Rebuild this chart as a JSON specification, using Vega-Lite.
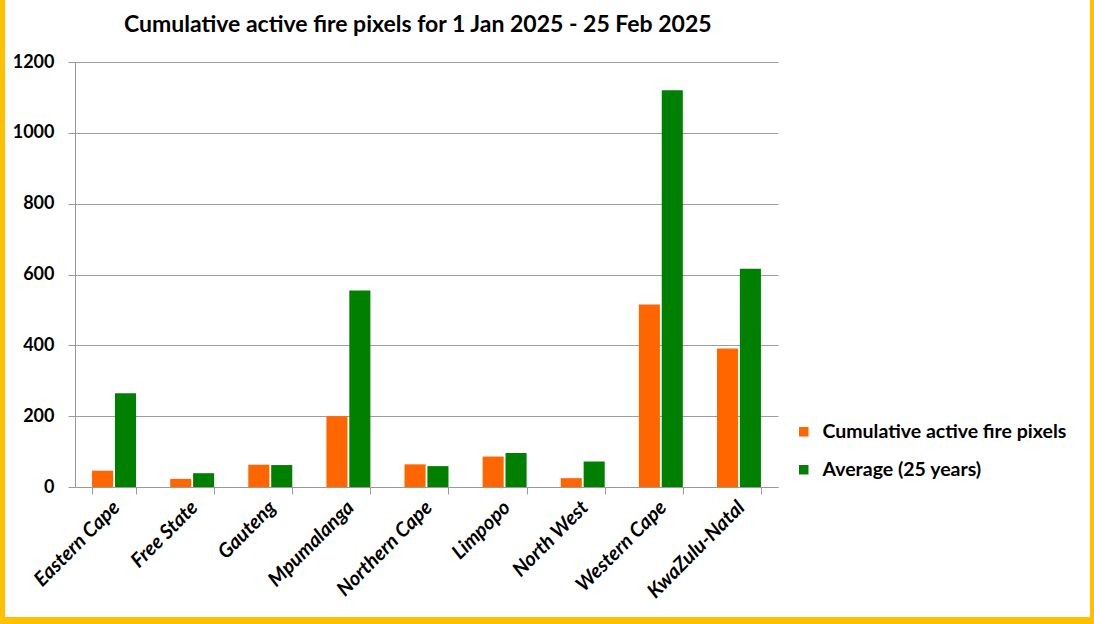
{
  "$schema": "https://vega.github.io/schema/vega-lite/v6.json",
  "width": 1085,
  "height": 617,
  "autosize": {"type": "none"},
  "padding": {"left": 5, "top": 0, "right": 4, "bottom": 7},
  "background": "#FFC000",
  "title": {
    "text": "Cumulative active fire pixels for 1 Jan 2025 - 25 Feb 2025",
    "anchor": "start",
    "frame": "group",
    "dx": 119,
    "dy": 55,
    "offset": 0,
    "baseline": "alphabetic",
    "font": "Lato",
    "fontSize": 23,
    "fontWeight": "bold",
    "color": "#000000"
  },
  "config": {
    "view": {"fill": "#FFFFFF", "stroke": null},
    "font": "Lato"
  },
  "data": {
    "values": [
      {"province": "Eastern Cape", "series": "Cumulative active fire pixels", "value": 46},
      {"province": "Eastern Cape", "series": "Average (25 years)", "value": 265},
      {"province": "Free State", "series": "Cumulative active fire pixels", "value": 23},
      {"province": "Free State", "series": "Average (25 years)", "value": 39},
      {"province": "Gauteng", "series": "Cumulative active fire pixels", "value": 63},
      {"province": "Gauteng", "series": "Average (25 years)", "value": 62},
      {"province": "Mpumalanga", "series": "Cumulative active fire pixels", "value": 200},
      {"province": "Mpumalanga", "series": "Average (25 years)", "value": 555},
      {"province": "Northern Cape", "series": "Cumulative active fire pixels", "value": 64},
      {"province": "Northern Cape", "series": "Average (25 years)", "value": 59},
      {"province": "Limpopo", "series": "Cumulative active fire pixels", "value": 86},
      {"province": "Limpopo", "series": "Average (25 years)", "value": 96},
      {"province": "North West", "series": "Cumulative active fire pixels", "value": 25},
      {"province": "North West", "series": "Average (25 years)", "value": 72},
      {"province": "Western Cape", "series": "Cumulative active fire pixels", "value": 515},
      {"province": "Western Cape", "series": "Average (25 years)", "value": 1120},
      {"province": "KwaZulu-Natal", "series": "Cumulative active fire pixels", "value": 391},
      {"province": "KwaZulu-Natal", "series": "Average (25 years)", "value": 616}
    ]
  },
  "mark": {"type": "bar"},
  "encoding": {
    "x": {
      "field": "province",
      "type": "nominal",
      "sort": null,
      "scale": {"range": [70, 773], "paddingInner": 0.437, "paddingOuter": 0.2185},
      "axis": {
        "title": null,
        "offset": -130,
        "tickBand": "extent",
        "tickSize": 7,
        "tickColor": "#999999",
        "domainColor": "#999999",
        "labelAngle": -45,
        "labelFont": "Lato",
        "labelFontSize": 20,
        "labelFontWeight": "bold",
        "labelFontStyle": "italic",
        "labelColor": "#000000",
        "labelPadding": 3,
        "labelOffset": -5,
        "labelLimit": 300,
        "grid": false
      }
    },
    "xOffset": {
      "field": "series",
      "type": "nominal",
      "sort": ["Cumulative active fire pixels", "Average (25 years)"],
      "scale": {"paddingInner": 0.08}
    },
    "y": {
      "field": "value",
      "type": "quantitative",
      "scale": {"domain": [0, 1200], "range": [487, 62], "nice": false},
      "axis": {
        "title": null,
        "offset": -70,
        "values": [0, 200, 400, 600, 800, 1000, 1200],
        "format": "d",
        "tickSize": 7,
        "tickColor": "#999999",
        "domainColor": "#999999",
        "gridColor": "#9E9E9E",
        "grid": true,
        "labelFont": "Lato",
        "labelFontSize": 18,
        "labelFontWeight": "bold",
        "labelColor": "#000000",
        "labelPadding": 14
      }
    },
    "color": {
      "field": "series",
      "type": "nominal",
      "sort": ["Cumulative active fire pixels", "Average (25 years)"],
      "scale": {"range": ["#FF6600", "#008000"]},
      "legend": {
        "title": null,
        "orient": "none",
        "legendX": 789,
        "legendY": 422,
        "symbolType": "square",
        "symbolSize": 90,
        "symbolStrokeWidth": 0,
        "labelFont": "Lato",
        "labelFontSize": 19.5,
        "labelFontWeight": "bold",
        "labelColor": "#000000",
        "labelOffset": 9,
        "labelLimit": 400,
        "rowPadding": 17,
        "padding": 0
      }
    }
  }
}
